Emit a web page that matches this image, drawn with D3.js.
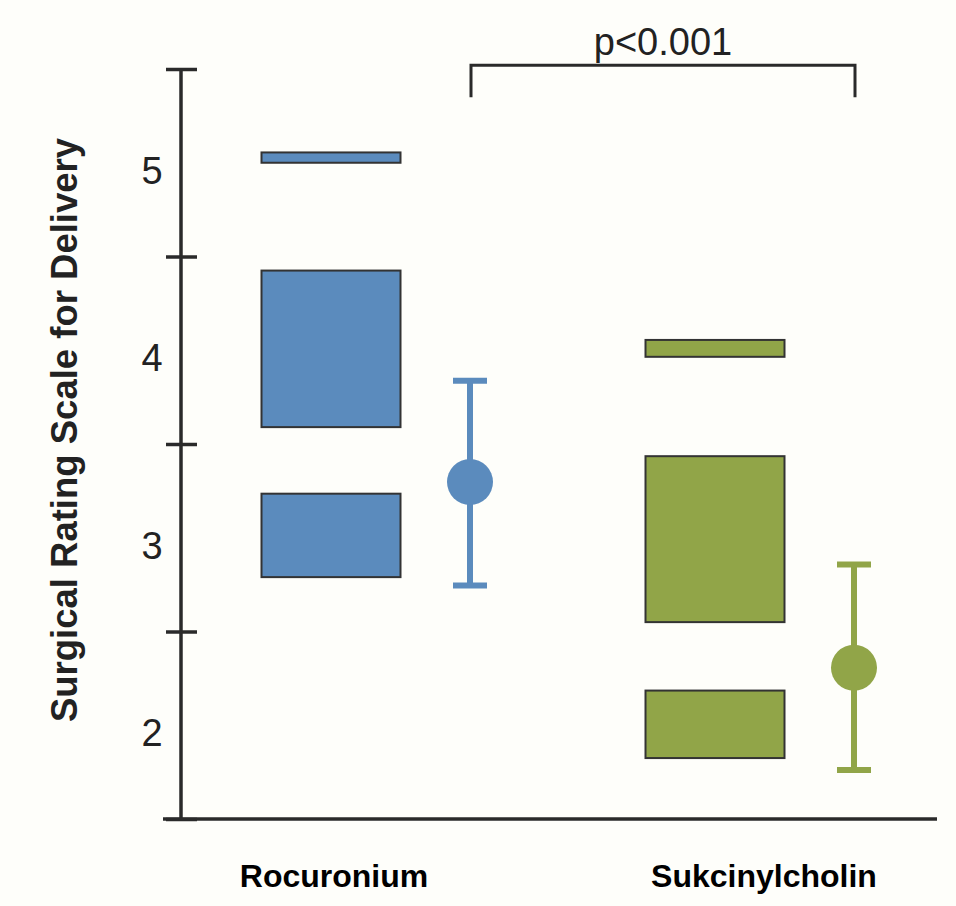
<!DOCTYPE html>
<html>
<head>
  <meta charset="utf-8">
  <title>Surgical Rating Scale for Delivery</title>
  <script src="https://d3js.org/d3.v7.min.js"></script>
  <style>
    body { margin: 0; background-color: #fefefa; }
    svg { display: block; }
    .tick-label { font-family: 'Liberation Sans', Arial, sans-serif; font-size: 38px; fill: #222; }
    .cat-label { font-family: 'Liberation Sans', Arial, sans-serif; font-size: 32px; font-weight: bold; fill: #000; }
    .y-title { font-family: 'Liberation Sans', Arial, sans-serif; font-size: 36.5px; font-weight: bold; fill: #222; }
  </style>
</head>
<body>
<div id="chart"></div>
<script>
var width = 956;
var height = 906;

// data
var categories = ["Rocuronium", "Sukcinylcholin"];
var colors = ["#5b8bbd", "#91a548"];
// stacked box segments per category, [low, high]
var segments = [
  [[5.0, 5.055], [3.59, 4.425], [2.79, 3.235]],
  [[3.965, 4.055], [2.55, 3.435], [1.825, 2.185]]
];
var means = [3.297, 2.307];
var errLow = [2.746, 1.762];
var errHigh = [3.837, 2.858];
var tickValues = [1.5, 2.5, 3.5, 4.5, 5.5];
var labelValues = [2, 3, 4, 5];
var pText = "p<0.001";

var svg = d3.select("#chart").append("svg")
  .attr("width", width).attr("height", height);

var y = d3.scaleLinear().domain([1.5, 5.5]).range([819, 69]);
var x = d3.scalePoint().domain(categories).range([400, 784]);

var boxW = 139;
var boxOff = -69;   // box centre relative to category point
var errOff = 70;    // mean / error bar relative to category point
var labelOff = [-66, -20];

// axes
svg.append("line")
  .attr("x1", 181).attr("x2", 181)
  .attr("y1", y(5.5)).attr("y2", y(1.5))
  .attr("stroke", "#2a2a2a").attr("stroke-width", 3.5);

svg.append("line")
  .attr("x1", 163).attr("x2", 937)
  .attr("y1", y(1.5)).attr("y2", y(1.5))
  .attr("stroke", "#2a2a2a").attr("stroke-width", 3.5);

var axis = svg.append("g")
  .attr("transform", "translate(181,0)")
  .call(d3.axisLeft(y).tickValues(tickValues).tickSize(15).tickFormat(""));
axis.select(".domain").remove();
axis.selectAll(".tick line")
  .attr("x1", 16).attr("x2", -15)
  .attr("stroke", "#2a2a2a").attr("stroke-width", 3.5);

svg.selectAll(".tick-label")
  .data(labelValues)
  .enter().append("text")
  .attr("class", "tick-label")
  .attr("x", 152)
  .attr("y", function(d) { return y(d) + 8; })
  .attr("text-anchor", "middle")
  .attr("dominant-baseline", "central")
  .text(function(d) { return d; });

svg.append("text")
  .attr("class", "y-title")
  .attr("transform", "translate(64,430) rotate(-90)")
  .attr("text-anchor", "middle")
  .attr("dominant-baseline", "central")
  .text("Surgical Rating Scale for Delivery");

// boxes
categories.forEach(function(c, i) {
  var cx = x(c);
  svg.selectAll(".box-" + i)
    .data(segments[i])
    .enter().append("rect")
    .attr("class", "box-" + i)
    .attr("x", cx + boxOff - boxW / 2)
    .attr("width", boxW)
    .attr("y", function(d) { return y(d[1]); })
    .attr("height", function(d) { return y(d[0]) - y(d[1]); })
    .attr("fill", colors[i])
    .attr("stroke", "#333")
    .attr("stroke-width", 2);

  // error bar
  var ex = cx + errOff;
  var g = svg.append("g").attr("stroke", colors[i]).attr("stroke-width", 6);
  g.append("line").attr("x1", ex).attr("x2", ex)
    .attr("y1", y(errHigh[i])).attr("y2", y(errLow[i]));
  g.append("line").attr("x1", ex - 17).attr("x2", ex + 17)
    .attr("y1", y(errHigh[i])).attr("y2", y(errHigh[i]));
  g.append("line").attr("x1", ex - 17).attr("x2", ex + 17)
    .attr("y1", y(errLow[i])).attr("y2", y(errLow[i]));
  svg.append("circle")
    .attr("cx", ex).attr("cy", y(means[i]))
    .attr("r", 23)
    .attr("fill", colors[i]);

  svg.append("text")
    .attr("class", "cat-label")
    .attr("x", cx + labelOff[i])
    .attr("y", 887)
    .attr("text-anchor", "middle")
    .text(c);
});

// significance bracket
var bx1 = x(categories[0]) + errOff + 1;
var bx2 = x(categories[1]) + errOff + 1;
svg.append("path")
  .attr("d", "M" + bx1 + "," + y(5.35) + "V" + y(5.52) + "H" + bx2 + "V" + y(5.35))
  .attr("fill", "none")
  .attr("stroke", "#2a2a2a")
  .attr("stroke-width", 3);

svg.append("text")
  .attr("class", "tick-label")
  .attr("x", (bx1 + bx2) / 2)
  .attr("y", 55)
  .attr("text-anchor", "middle")
  .text(pText);
</script>
</body>
</html>
